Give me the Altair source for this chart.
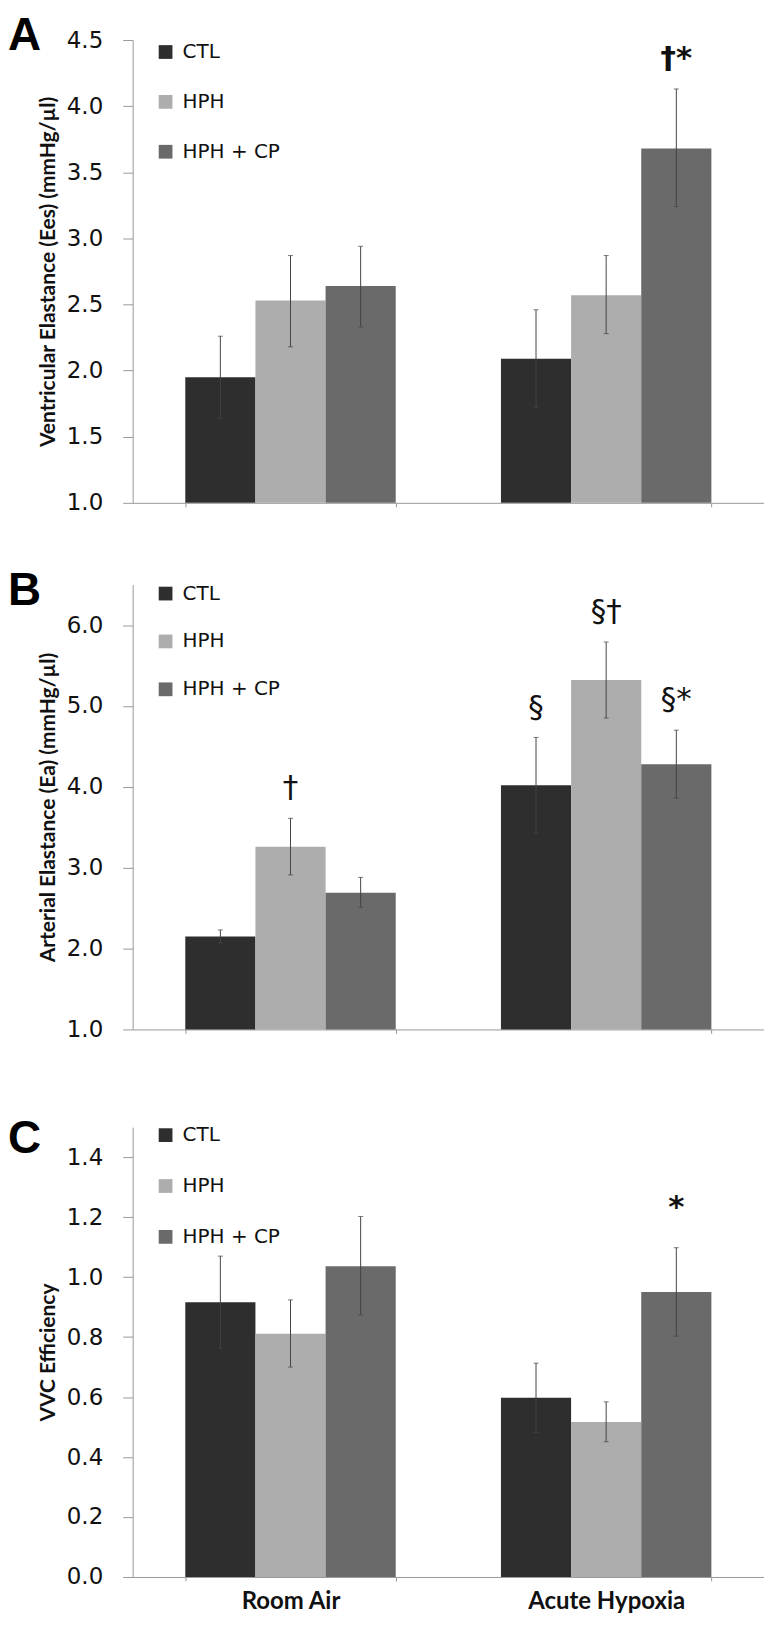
import altair as alt
import pandas as pd

conds = ["Room Air", "Acute Hypoxia"]
groups = ["CTL", "HPH", "HPH + CP"]
colors = ["#2e2e2e", "#adadad", "#6a6a6a"]

# Panel A: Ventricular elastance
a_mean = [1.95, 2.53, 2.64, 2.09, 2.57, 3.68]
a_lo = [1.64, 2.18, 2.33, 1.72, 2.28, 3.24]
a_hi = [2.26, 2.87, 2.94, 2.46, 2.87, 4.13]
a_ann = ["", "", "", "", "", "†*"]

# Panel B: Arterial elastance
b_mean = [2.15, 3.26, 2.69, 4.02, 5.32, 4.28]
b_lo = [2.07, 2.91, 2.51, 3.43, 4.85, 3.86]
b_hi = [2.23, 3.61, 2.88, 4.61, 5.79, 4.70]
b_ann = ["", "†", "", "§", "§†", "§*"]

# Panel C: VVC efficiency
c_mean = [0.916, 0.811, 1.036, 0.598, 0.517, 0.950]
c_lo = [0.763, 0.700, 0.874, 0.482, 0.451, 0.803]
c_hi = [1.070, 0.924, 1.202, 0.713, 0.584, 1.098]
c_ann = ["", "", "", "", "", "*"]

W = 633
TICKFONT = "DejaVu Sans"
TITLEFONT = "Lato"


def panel(mean, lo, hi, ann, letter, ytitle, ydomain, yticks, height,
          legend_y, legend_rowpad, letter_y, show_xlabels, ann_weight, ann_dy):
    df = pd.DataFrame({
        "cond": [c for c in conds for _ in groups],
        "group": groups * 2,
        "mean": mean, "lo": lo, "hi": hi, "ann": ann,
    })
    xaxis = alt.Axis(
        title=None, labels=show_xlabels, labelFont=TITLEFONT, labelFontWeight="bold",
        labelFontSize=24, labelColor="#111", labelPadding=9, labelAngle=0,
        tickBand="extent", tickSize=4, tickColor="#999", domainColor="#999",
    )
    x = alt.X("cond:N", sort=conds,
              scale=alt.Scale(domain=conds, paddingInner=1/3, paddingOuter=1/6),
              axis=xaxis)
    xo = alt.XOffset("group:N", sort=groups,
                     scale=alt.Scale(domain=groups, paddingInner=0, paddingOuter=0))
    yaxis = alt.Axis(
        title=ytitle, values=yticks, format=".1f",
        labelFont=TICKFONT, labelFontSize=23, labelColor="#111", labelPadding=20,
        tickSize=10, tickColor="#999", domainColor="#999",
        titleFont=TITLEFONT, titleFontWeight="bold", titleFontSize=21,
        titleColor="#111", titlePadding=8,
    )
    yscale = alt.Scale(domain=ydomain, nice=False, zero=False)

    def y(field):
        return alt.Y(f"{field}:Q", scale=yscale, axis=yaxis)

    base = alt.Chart(df)
    bars = base.mark_bar(clip=True).encode(
        x=x, xOffset=xo, y=y("mean"),
        color=alt.Color("group:N", sort=groups,
                        scale=alt.Scale(domain=groups, range=colors),
                        legend=alt.Legend(
                            title=None, orient="none", legendX=23, legendY=legend_y,
                            symbolType="square", symbolSize=190, symbolStrokeWidth=0,
                            labelFont=TICKFONT, labelFontSize=20, labelColor="#111",
                            labelOffset=7, rowPadding=legend_rowpad, padding=0,
                        )),
    )
    rule = base.mark_rule(color="#444", strokeWidth=1).encode(
        x=x, xOffset=xo, y=y("lo"), y2="hi:Q")
    cap_lo = base.mark_tick(color="#444", size=5, thickness=1).encode(
        x=x, xOffset=xo, y=y("lo"))
    cap_hi = base.mark_tick(color="#444", size=5, thickness=1).encode(
        x=x, xOffset=xo, y=y("hi"))
    txt = base.mark_text(baseline="bottom", dy=ann_dy, font=TICKFONT, fontSize=31,
                         fontWeight=ann_weight, color="#111").encode(
        x=x, xOffset=xo, y=y("hi"), text="ann:N")
    let = alt.Chart(pd.DataFrame({"t": [letter]})).mark_text(
        align="left", baseline="alphabetic", font="Liberation Sans",
        fontWeight="bold", fontSize=46, color="#000").encode(
        text="t:N", x=alt.value(-125), y=alt.value(letter_y))
    return alt.layer(bars, rule, cap_lo, cap_hi, txt, let).properties(
        width=W, height=height)


pa = panel(a_mean, a_lo, a_hi, a_ann, "A", "Ventricular Elastance (Ees) (mmHg/µl)",
           [1.0, 4.5], [1.0, 1.5, 2.0, 2.5, 3.0, 3.5, 4.0, 4.5], 464, 2, 30, 10, False,
           "bold", -14)
pb = panel(b_mean, b_lo, b_hi, b_ann, "B", "Arterial Elastance (Ea) (mmHg/µl)",
           [1.0, 6.5], [1.0, 2.0, 3.0, 4.0, 5.0, 6.0], 446, -1, 28, 20, False,
           "normal", -14)
pc = panel(c_mean, c_lo, c_hi, c_ann, "C", "VVC Efficiency",
           [0.0, 1.5], [0.0, 0.2, 0.4, 0.6, 0.8, 1.0, 1.2, 1.4], 451, -2, 31, 26, True,
           "bold", -24)

top = alt.vconcat(pa, pb, spacing=53).resolve_scale(
    color="independent").resolve_legend(color="independent")
chart = alt.vconcat(top, pc, spacing=75).resolve_scale(
    color="independent").resolve_legend(color="independent").properties(
    padding={"top": 3, "left": 0, "right": 0, "bottom": 0}
).configure_view(stroke=None).configure_axis(grid=False)

chart.save("out.html", embed_options={"renderer": "svg", "actions": False})
